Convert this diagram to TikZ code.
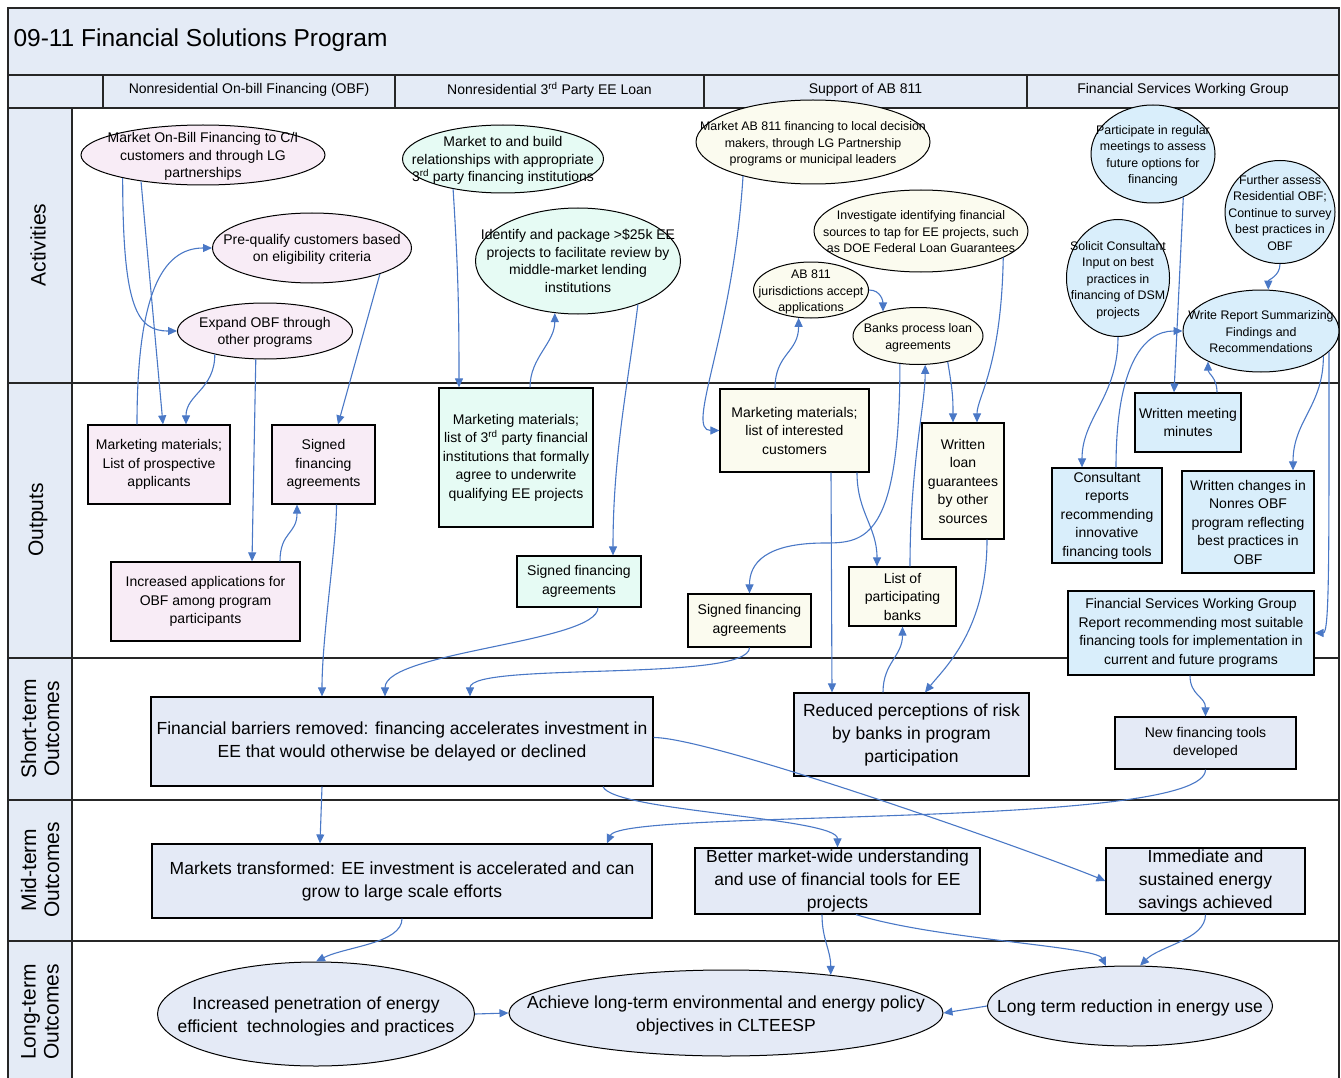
\documentclass[tikz,border=0pt]{standalone}
\usepackage{fontspec}
\setmainfont{Liberation Sans}
\usetikzlibrary{shapes.geometric,arrows.meta}

\definecolor{cline}{HTML}{4A78C6}
\definecolor{cband}{HTML}{E4EBF6}
\definecolor{cobf}{HTML}{F8ECF6}
\definecolor{cthird}{HTML}{E6FBF4}
\definecolor{cab}{HTML}{FBFBEF}
\definecolor{cfs}{HTML}{D9EEFB}
\definecolor{cout}{HTML}{E4EAF6}

\newcommand{\fsz}[2]{\fontsize{#1}{#2}\selectfont}
% text of an oval: takes no room, so the oval keeps its given size
\newcommand{\ov}[1]{\raisebox{-0.38em}[0pt][0pt]{\makebox[0pt]{\begin{tabular}{@{}c@{}}#1\end{tabular}}}}

\tikzset{
  frameline/.style={draw=black!85, line width=1.3pt},
  rowlab/.style={rotate=90, align=center, font=\fsz{21}{23}},
  colhead/.style={font=\fsz{14}{16}},
  oval/.style={ellipse, draw=black, line width=1pt, inner sep=0pt},
  box/.style={rectangle, draw=black, line width=1.2pt, inner sep=0pt, align=center},
  big/.style={font=\fsz{14}{17.5}},
  small/.style={font=\fsz{12.4}{16.5}},
  outtxt/.style={font=\fsz{14}{18.5}},
  outcome/.style={font=\fsz{17.5}{23}},
  conn/.style={draw=cline, line width=1.1pt, -{Triangle[length=9pt,width=8pt]}},
}

\begin{document}
\begin{tikzpicture}[x=1pt,y=-1pt]
\useasboundingbox (0,0) rectangle (1341,1078);

% ---------- table frame ----------
\fill[cband] (8,8) rectangle (1339,108);
\fill[cband] (8,108) rectangle (72,1090);
\draw[frameline] (8,8) rectangle (1339,1090);
\draw[frameline] (8,75) -- (1339,75);
\draw[frameline] (8,108) -- (1339,108);
\foreach \xx in {103,395,704,1027} \draw[frameline] (\xx,75) -- (\xx,108);
\draw[frameline] (72,108) -- (72,1090);
\foreach \yy in {383,658,800,941} \draw[frameline] (8,\yy) -- (1339,\yy);

\node[anchor=west, font=\fsz{24.5}{28}] (title) at (10,40) {09-11 Financial Solutions Program};
\node[colhead] (hObf) at (249,90) {Nonresidential On-bill Financing (OBF)};
\node[colhead] (hThird) at (549.5,90) {Nonresidential 3\textsuperscript{rd} Party EE Loan};
\node[colhead] (hAb) at (865.5,90) {Support of AB 811};
\node[colhead] (hFs) at (1183,90) {Financial Services Working Group};

\node[rowlab] (rAct) at (38,245) {Activities};
\node[rowlab] (rOut) at (38,520) {Outputs};
\node[rowlab] (rShort) at (40,729) {Short-term\\Outcomes};
\node[rowlab] (rMid) at (40,870) {Mid-term\\Outcomes};
\node[rowlab] (rLong) at (40,1012) {Long-term\\Outcomes};

% ---------- activities ----------
\node[oval, big, fill=cobf, minimum width=244, minimum height=60] (A1) at (203,155)
  {\ov{Market On-Bill Financing to C/I\\customers and through LG\\partnerships}};
\node[oval, big, fill=cobf, minimum width=199, minimum height=70] (A2) at (312,248)
  {\ov{Pre-qualify customers based\\on eligibility criteria}};
\node[oval, big, fill=cobf, minimum width=175, minimum height=56] (A3) at (265,331)
  {\ov{Expand OBF through\\other programs}};

\node[oval, big, fill=cthird, minimum width=201, minimum height=68] (A4) at (503,159)
  {\ov{Market to and build\\relationships with appropriate\\3\textsuperscript{rd} party financing institutions}};
\node[oval, big, fill=cthird, minimum width=205, minimum height=106] (A5) at (578,261)
  {\ov{Identify and package >\$25k EE\\projects to facilitate review by\\middle-market lending\\institutions}};

\node[oval, small, fill=cab, minimum width=234, minimum height=84] (A6) at (813,142)
  {\ov{Market AB 811 financing to local decision\\makers, through LG Partnership\\programs or municipal leaders}};
\node[oval, small, fill=cab, minimum width=214, minimum height=82] (A7) at (921,231)
  {\ov{Investigate identifying financial\\sources to tap for EE projects, such\\as DOE Federal Loan Guarantees}};
\node[oval, small, fill=cab, minimum width=115, minimum height=56] (A8) at (811,290)
  {\ov{AB 811\\jurisdictions accept\\applications}};
\node[oval, small, fill=cab, minimum width=130, minimum height=57] (A9) at (918,336)
  {\ov{Banks process loan\\agreements}};

\node[oval, small, fill=cfs, minimum width=124, minimum height=98] (A10) at (1153,154)
  {\ov{Participate in regular\\meetings to assess\\future options for\\financing}};
\node[oval, small, fill=cfs, minimum width=110, minimum height=103] (A11) at (1280,212)
  {\ov{Further assess\\Residential OBF;\\Continue to survey\\best practices in\\OBF}};
\node[oval, small, fill=cfs, minimum width=103, minimum height=117] (A12) at (1118,278)
  {\ov{Solicit Consultant\\Input on best\\practices in\\financing of DSM\\projects}};
\node[oval, small, fill=cfs, minimum width=156, minimum height=82] (A13) at (1261,331)
  {\ov{Write Report Summarizing\\Findings and\\Recommendations}};

% ---------- outputs ----------
\node[box, outtxt, fill=cobf, minimum width=142, minimum height=79] (O1) at (159,464.5)
  {Marketing materials;\\List of prospective\\applicants};
\node[box, outtxt, fill=cobf, minimum width=103, minimum height=79] (O2) at (323.5,464.5)
  {Signed\\financing\\agreements};
\node[box, outtxt, fill=cobf, minimum width=189, minimum height=79] (O3) at (205.5,601.5)
  {Increased applications for\\OBF among program\\participants};
\node[box, outtxt, fill=cthird, minimum width=154, minimum height=139] (O4) at (516,457.5)
  {Marketing materials;\\list of 3\textsuperscript{rd} party financial\\institutions that formally\\agree to underwrite\\qualifying EE projects};
\node[box, outtxt, fill=cthird, minimum width=124, minimum height=51] (O5) at (579,581.5)
  {Signed financing\\agreements};
\node[box, outtxt, fill=cab, minimum width=149, minimum height=83] (O6) at (794.5,430.5)
  {Marketing materials;\\list of interested\\customers};
\node[box, outtxt, fill=cab, minimum width=82, minimum height=116] (O7) at (963,481)
  {Written\\loan\\guarantees\\by other\\sources};
\node[box, outtxt, fill=cab, minimum width=123, minimum height=53] (O8) at (749.5,620.5)
  {Signed financing\\agreements};
\node[box, outtxt, fill=cab, minimum width=107, minimum height=59] (O9) at (902.5,596.5)
  {List of\\participating\\banks};
\node[box, outtxt, fill=cfs, minimum width=106, minimum height=59] (O10) at (1188,422.5)
  {Written meeting\\minutes};
\node[box, outtxt, fill=cfs, minimum width=110, minimum height=95] (O11) at (1107,515.5)
  {Consultant\\reports\\recommending\\innovative\\financing tools};
\node[box, outtxt, fill=cfs, minimum width=132, minimum height=102] (O12) at (1248,522)
  {Written changes in\\Nonres OBF\\program reflecting\\best practices in\\OBF};
\node[box, outtxt, fill=cfs, minimum width=246, minimum height=84] (O13) at (1191,633)
  {Financial Services Working Group\\Report recommending most suitable\\financing tools for implementation in\\current and future programs};

% ---------- outcomes ----------
\node[box, outcome, fill=cout, minimum width=502, minimum height=89] (S1) at (402,741.5)
  {Financial barriers removed: financing accelerates investment in\\EE that would otherwise be delayed or declined};
\node[box, outcome, fill=cout, minimum width=235, minimum height=83] (S2) at (911.5,734.5)
  {Reduced perceptions of risk\\by banks in program\\participation};
\node[box, outtxt, fill=cout, minimum width=181, minimum height=52] (S3) at (1205.5,743)
  {New financing tools\\developed};

\node[box, outcome, fill=cout, minimum width=500, minimum height=74] (M1) at (402,881)
  {Markets transformed: EE investment is accelerated and can\\grow to large scale efforts};
\node[box, outcome, fill=cout, minimum width=285, minimum height=66] (M2) at (837.5,881)
  {Better market-wide understanding\\and use of financial tools for EE\\projects};
\node[box, outcome, fill=cout, minimum width=199, minimum height=66] (M3) at (1205.5,881)
  {Immediate and\\sustained energy\\savings achieved};

\node[oval, outcome, fill=cout, minimum width=317, minimum height=104] (L1) at (316,1014)
  {\ov{Increased penetration of energy\\efficient\ \ technologies and practices}};
\node[oval, outcome, fill=cout, minimum width=434, minimum height=86] (L2) at (726,1013)
  {\ov{Achieve long-term environmental and energy policy\\objectives in CLTEESP}};
\node[oval, outcome, fill=cout, minimum width=285, minimum height=80] (L3) at (1130,1006)
  {\ov{Long term reduction in energy use}};

% ---------- bend points ----------
\coordinate (k16) at (825,543);

% ---------- connectors: OBF ----------
\draw[conn] (A1.-164) .. controls +(0,130) and +(-40,0) .. (A3.west);
\draw[conn] (A1.-157) -- ([xshift=4]O1.north);
\draw[conn] ([xshift=-22]O1.north) .. controls +(0,-130) and +(-50,0) .. (A2.west);
\draw[conn] (A3.-155) .. controls +(0,35) and +(0,-30) .. ([xshift=27]O1.north);
\draw[conn] (A3.-108) -- ([xshift=46.5]O3.north);
\draw[conn] (A2.-21) -- ([xshift=14.5]O2.north);
\draw[conn] ([xshift=74.5]O3.north) .. controls +(0,-30) and +(0,30) .. ([xshift=-26.5]O2.south);
\draw[conn] ([xshift=13]O2.south) .. controls +(0,40) and +(0,-60) .. ([xshift=-80]S1.north);

% ---------- connectors: 3rd party ----------
\draw[conn] (A4.-149.5) .. controls +(5,80) and +(0,-80) .. ([xshift=-57]O4.north);
\draw[conn] ([xshift=14]O4.north) .. controls +(0,-30) and +(0,30) .. (A5.-114);
\draw[conn] (A5.-36) .. controls +(-10,80) and +(0,-100) .. ([xshift=34]O5.north);
\draw[conn] ([xshift=19]O5.south) .. controls +(0,35) and +(0,-45) .. ([xshift=-17]S1.north);

% ---------- connectors: AB 811 ----------
\draw[conn] (A6.-154) .. controls +(-10,160) and +(-35,0) .. (O6.west);
\draw[conn] ([xshift=-19.5]O6.north) .. controls +(0,-35) and +(0,35) .. (A8.-114);
\draw[conn] (A8.east) .. controls +(12,0) and +(0,-10) .. (A9.145);
\draw[conn] (A9.-123) .. controls +(0,175) and +(40,0) .. (k16)
  .. controls +(-60,0) and +(0,-30) .. (O8.north);
\draw[conn] ([xshift=7.5]O9.north) .. controls +(0,-100) and +(0,40) .. (A9.-76);
\draw[conn] (A9.-41) .. controls +(5,30) and +(0,-25) .. ([xshift=-10]O7.north);
\draw[conn] (A7.-18) .. controls +(-2,110) and +(0,-25) .. ([xshift=14]O7.north);
\draw[conn] ([xshift=36.5]O6.south) -- ([xshift=-79.5]S2.north);
\draw[conn] ([xshift=62.5]O6.south) .. controls +(0,40) and +(0,-40) .. ([xshift=-25.5]O9.north);
\draw[conn] ([xshift=-28.5]S2.north) .. controls +(0,-30) and +(0,30) .. (O9.south);
\draw[conn] ([xshift=24]O7.south) .. controls +(0,90) and +(20,-25) .. ([xshift=13.5]S2.north);
\draw[conn] (O8.south) .. controls +(0,35) and +(0,-35) .. ([xshift=68]S1.north);

% ---------- connectors: working group ----------
\draw[conn] (A10.-55) -- ([xshift=-14]O10.north);
\draw[conn] (A11.south) .. controls +(0,12) and +(0,-10) .. (A13.80);
\draw[conn] (A12.south) .. controls +(0,60) and +(0,-50) .. ([xshift=-25]O11.north);
\draw[conn] ([xshift=9]O11.north) .. controls +(0,-100) and +(-40,0) .. (A13.west);
\draw[conn] ([xshift=29]O10.north) .. controls +(0,-15) and +(0,12) .. (A13.-150);
\draw[conn] (A13.-22) .. controls +(0,50) and +(0,-50) .. ([xshift=45]O12.north);
\draw[conn] (A13.-17) .. controls +(0,200) and +(15,0) .. (O13.east);
\draw[conn] ([xshift=-1]O13.south) .. controls +(0,20) and +(0,-20) .. (S3.north);

% ---------- connectors: outcomes ----------
\draw[conn] (S3.south) .. controls +(0,60) and +(15,-35) .. ([xshift=205]M1.north);
\draw[conn] ([yshift=4]S1.east) .. controls +(60,0) and +(-60,-25) .. (M3.west);
\draw[conn] ([xshift=201]S1.south) .. controls +(10,25) and +(0,-30) .. (M2.north);
\draw[conn] ([xshift=-80]S1.south) -- ([xshift=-82]M1.north);
\draw[conn] (M1.south) .. controls +(0,25) and +(30,-15) .. (L1.north);
\draw[conn] ([xshift=-15.5]M2.south) .. controls +(0,25) and +(0,-25) .. (L2.20);
\draw[conn] ([xshift=18.5]M2.south) .. controls +(80,25) and +(-10,-20) .. (L3.121);
\draw[conn] (M3.south) .. controls +(0,25) and +(20,-20) .. (L3.76);
\draw[conn] (L1.east) -- (L2.west);
\draw[conn] (L3.west) -- (L2.east);
\end{tikzpicture}
\end{document}
